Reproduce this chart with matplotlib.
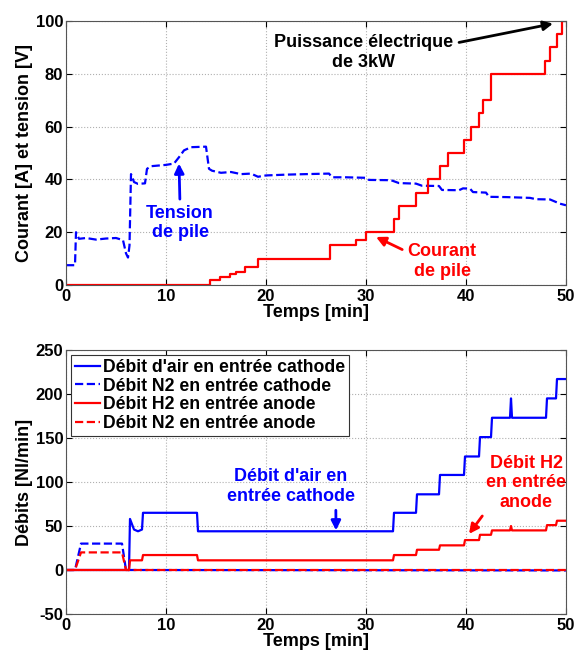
import matplotlib
matplotlib.use("Agg")
import matplotlib.pyplot as plt

plt.rcParams["font.family"] = ["Liberation Sans", "DejaVu Sans"]
plt.rcParams["font.weight"] = "bold"
plt.rcParams["font.size"] = 13
plt.rcParams["axes.unicode_minus"] = False

# top panel: stack voltage (dashed) and current (steps)
t_tension = [0, 0.9, 1.0, 1.3, 2, 3, 4, 5, 5.7, 6.0, 6.2, 6.35, 6.5, 6.8, 7.2, 7.9,
             8.1, 8.5, 10.0, 10.8, 11.3, 11.8, 12.5, 14.0, 14.3, 14.6, 15.5, 16.5,
             17.5, 18.5, 19.2, 20, 22, 24, 26.3, 26.6, 28, 30, 30.3, 32.5, 33.3, 35,
             35.6, 37.3, 37.6, 39.3, 39.7, 40.4, 40.7, 42, 42.3, 44, 46.4, 47, 48.4,
             49.4, 50]
v_tension = [7.5, 7.5, 20, 17.5, 17.8, 17.2, 17.6, 17.8, 17, 12, 10.4, 15, 42, 39,
             38.3, 38.5, 44, 45, 45.5, 46, 48.4, 51, 52.2, 52.4, 44, 43.3, 42.5, 42.8,
             42, 42.2, 41, 41.5, 41.8, 42, 42.2, 40.8, 40.8, 40.6, 39.8, 39.7, 38.6,
             38.4, 37.6, 37.5, 36, 35.9, 36.6, 36.5, 35.2, 35, 33.4, 33.3, 33, 32.5,
             32.4, 30.8, 30.2]

t_courant = [0, 14.4, 15.4, 16.4, 17.0, 17.9, 19.2, 26.4, 29.0, 30.0, 32.8, 33.3,
             35.0, 36.2, 37.4, 38.2, 39.8, 40.5, 41.3, 41.7, 42.5, 47.9, 48.4, 49.1,
             49.6, 50]
i_courant = [0, 2, 3, 4, 5, 7, 10, 15, 17, 20, 25, 30, 35, 40, 45, 50, 55, 60, 65,
             70, 80, 85, 90, 95, 100, 100]

# bottom panel: gas flows
t_air = [0, 6.3, 6.4, 6.8, 7.2, 7.6, 7.7, 13.1, 13.2, 32.7, 32.8, 35.0, 35.1, 37.3,
         37.4, 39.8, 39.9, 41.3, 41.4, 42.5, 42.6, 44.4, 44.5, 44.6, 48.0, 48.1, 49.0,
         49.1, 50]
q_air = [0, 0, 58, 46, 44, 46, 65, 65, 44, 44, 65, 65, 86, 86, 108, 108, 129, 129,
         151, 151, 173, 173, 195, 173, 173, 195, 195, 217, 217]

t_h2 = [0, 6.3, 6.4, 7.6, 7.7, 13.1, 13.2, 32.7, 32.8, 35.0, 35.1, 37.3, 37.4, 39.8,
        39.9, 41.3, 41.4, 42.5, 42.6, 44.4, 44.5, 44.6, 48.0, 48.1, 49.0, 49.1, 50]
q_h2 = [0, 0, 11, 11, 17, 17, 11, 11, 17, 17, 23, 23, 28, 28, 34, 34, 40, 40, 45, 45,
        50, 45, 45, 51, 51, 56, 56]

t_n2 = [0, 0.9, 1.5, 5.6, 6.0, 50]
q_n2_cathode = [0, 0, 30, 30, 0, -0.5]
q_n2_anode = [0, 0, 20, 20, 0, 0]

BLUE = (0, 0, 1)
RED = (1, 0, 0)
LW = 1.6


def arrow(color, relpos):
    return dict(arrowstyle="-|>", color=color, lw=2, shrinkA=2, shrinkB=0,
                mutation_scale=14, relpos=relpos)


fig = plt.figure(figsize=(5.76, 6.51), dpi=100)
ax = fig.add_axes([66 / 576, 1 - 285 / 651, 500 / 576, 264 / 651])
ax_b = fig.add_axes([66 / 576, 1 - 614 / 651, 500 / 576, 264 / 651])

for a in (ax, ax_b):
    a.grid(True, ls=":", color="#b0b0b0", lw=0.8)
    a.tick_params(direction="in", length=4, top=True, right=True, width=0.8,
                  labelsize=12, pad=2)
    a.tick_params(axis="x", pad=3)
    a.set_xlim(0, 50)
    a.set_xticks([0, 10, 20, 30, 40, 50])
    a.set_xlabel("Temps [min]", fontweight="bold", labelpad=0)
    for s in a.spines.values():
        s.set_color("#555555")

# top
ax.plot(t_tension, v_tension, ls="--", color=BLUE, lw=LW)
ax.plot(t_courant, i_courant, drawstyle="steps-post", color=RED, lw=LW)
ax.set_ylim(0, 100)
ax.set_yticks([0, 20, 40, 60, 80, 100])
ax.set_ylabel("Courant [A] et tension [V]", fontweight="bold", labelpad=2)

ax.annotate("Puissance électrique\nde 3kW", xy=(48.7, 99), xytext=(29.8, 88),
            ha="center", va="center", color="black", fontweight="bold",
            arrowprops=arrow("black", (1.0, 0.75)))
ax.annotate("Tension\nde pile", xy=(11.3, 46), xytext=(11.4, 23.5),
            ha="center", va="center", color=BLUE, fontweight="bold",
            arrowprops=arrow(BLUE, (0.5, 1.0)))
ax.annotate("Courant\nde pile", xy=(31.0, 18.2), xytext=(37.6, 9),
            ha="center", va="center", color=RED, fontweight="bold",
            arrowprops=arrow(RED, (0.0, 0.75)))

# bottom
ax_b.plot(t_air, q_air, color=BLUE, lw=LW, label="Débit d'air en entrée cathode")
ax_b.plot(t_n2, q_n2_cathode, ls="--", color=BLUE, lw=LW,
          label="Débit N2 en entrée cathode")
ax_b.plot(t_h2, q_h2, color=RED, lw=LW, label="Débit H2 en entrée anode")
ax_b.plot(t_n2, q_n2_anode, ls="--", color=RED, lw=LW,
          label="Débit N2 en entrée anode")
ax_b.set_ylim(-50, 250)
ax_b.set_yticks([-50, 0, 50, 100, 150, 200, 250])
ax_b.set_ylabel("Débits [Nl/min]", fontweight="bold", labelpad=2)
leg = ax_b.legend(loc="upper left", fancybox=False, framealpha=1,
                  edgecolor="#333333", borderpad=0.2, labelspacing=0.1,
                  handlelength=1.4, handletextpad=0.2, borderaxespad=0.3,
                  fontsize=12.7)
leg.get_frame().set_linewidth(0.8)

ax_b.annotate("Débit d'air en\nentrée cathode", xy=(27.0, 45), xytext=(22.5, 95),
              ha="center", va="center", color=BLUE, fontweight="bold",
              arrowprops=arrow(BLUE, (0.85, 0.0)))
ax_b.annotate("Débit H2\nen entrée\nanode", xy=(40.3, 41), xytext=(46.0, 99),
              ha="center", va="center", color=RED, fontweight="bold",
              arrowprops=arrow(RED, (0.0, 0.0)))

fig.savefig("out.png", dpi=100)
